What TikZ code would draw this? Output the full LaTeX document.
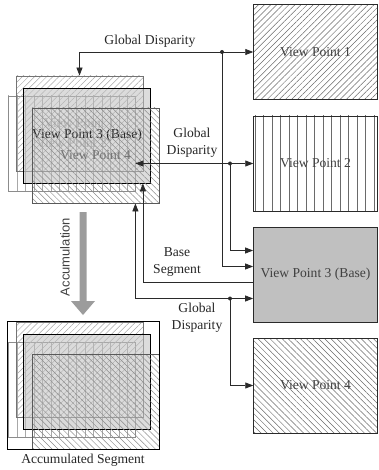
\documentclass[tikz,border=0pt]{standalone}
\usepackage{fontspec}
\setmainfont{Liberation Serif}
\setsansfont{Liberation Sans}
\usetikzlibrary{arrows.meta,patterns.meta,calc}
\definecolor{linec}{HTML}{2A2A2A}
\definecolor{hatchc}{HTML}{6A6A6A}
\definecolor{lhatch}{HTML}{A8A8A8}
\definecolor{basefill}{HTML}{C0C0C0}
\definecolor{accg}{HTML}{9C9C9C}
\begin{document}
\begin{tikzpicture}[x=1pt,y=-1pt, font=\fontsize{13.6}{17}\selectfont,
  box/.style={draw=linec, line width=0.8pt, minimum width=124pt, minimum height=95pt, inner sep=0pt, text=black!75},
  lbox/.style={minimum width=127pt, minimum height=95pt, inner sep=0pt, line width=0.8pt},
  hatchR/.style={pattern={Lines[angle=45,distance=4.3pt,line width=0.5pt]}, pattern color=#1},
  hatchL/.style={pattern={Lines[angle=-45,distance=4.3pt,line width=0.5pt]}, pattern color=#1},
  vlines/.style={pattern={Lines[angle=90,distance=8.5pt,line width=0.5pt]}, pattern color=#1},
  basel/.style={fill=black!25, fill opacity=0.55, text opacity=1, draw=black},
  arr/.style={draw=linec, line width=0.8pt, -{Triangle[length=8pt,width=6pt]}},
  dot/.style={circle, fill=linec, inner sep=0pt, minimum size=4pt},
  lbl/.style={align=center, text=black!85}]
\useasboundingbox (0,0) rectangle (378,470);

% right column
\node[box, hatchR=hatchc] (r1) at (315.5,52) {View Point 1};
\node[box, vlines=hatchc] (r2) at (315.5,163.5) {View Point 2};
\node[box, fill=basefill] (r3) at (315.5,274.5) {View Point 3 (Base)};
\node[box, hatchL=hatchc] (r4) at (315.5,385.5) {View Point 4};

% left top group
\node[lbox, preaction={fill=white}, vlines=lhatch, draw=black!45, text=black!35] (l2) at (71.5,143.5) {View Point 2};
\node[lbox, hatchR=lhatch, draw=black!55, text=black!35] (l1) at (79.5,123.5) {View Point 1};
\node[lbox, basel, text=black!85] (l3) at (87,135.5) {View Point 3 (Base)};
\node[lbox, hatchL=black!45, draw=black!65, text=black!55] (l4) at (95.5,155.5) {View Point 4};

% left bottom group
\node[lbox, preaction={fill=white}, vlines=lhatch, draw=black!45] (b2) at (71.5,389.5) {};
\node[lbox, hatchR=lhatch, draw=black!55] (b1) at (79.5,369.5) {};
\node[lbox, basel] (b3) at (87,381.5) {};
\node[lbox, hatchL=black!45, draw=black!65] (b4) at (95.5,401.5) {};
\draw[black, line width=0.8pt] (b2.west |- b1.north) rectangle (b4.south east);

% connectors
\coordinate (j1) at (222,52);
\coordinate (j2) at (230,163.5);
\coordinate (j3) at (230,298.5);
\draw[arr] (j1) -- (r1.west);
\draw[arr] (j1) -| (l1.north);
\draw[arr] (j1) |- ($(r3.west)+(0,-8)$);
\draw[arr] (j2) -- (r2.west);
\draw[arr] (j2) -- (l2.east |- j2);
\draw[arr] (j2) |- ($(r3.west)+(0,-24)$);
\draw[arr] ($(r3.west)+(0,8)$) -| ($(l3.south east)+(-8,0)$);
\draw[arr] (j3) -- ($(r3.west)+(0,24)$);
\draw[arr] (j3) -| ($(l4.south east)+(-24,0)$);
\draw[arr] (j3) |- (r4.west);
\node[dot] (d1) at (j1) {};
\node[dot] (d2) at (j2) {};
\node[dot] (d3) at (j3) {};

% labels
\node[lbl] (t1) at (150,41) {Global Disparity};
\node[lbl] (t2) at (192,143) {Global\\Disparity};
\node[lbl] (t3) at (177,262) {Base\\Segment};
\node[lbl] (t4) at (197,318) {Global\\Disparity};

% accumulation arrow
\fill[accg] (79.5,212) -- (86.5,212) -- (86.5,301) -- (95,301) -- (83,315) -- (71,301) -- (79.5,301) -- cycle;
\node[font=\sffamily\fontsize{13}{15}\selectfont, rotate=90, text=black!75] (acc) at (65,257) {Accumulation};
\node[text=black!85] (accs) at (83,460) {Accumulated Segment};
\end{tikzpicture}
\end{document}
